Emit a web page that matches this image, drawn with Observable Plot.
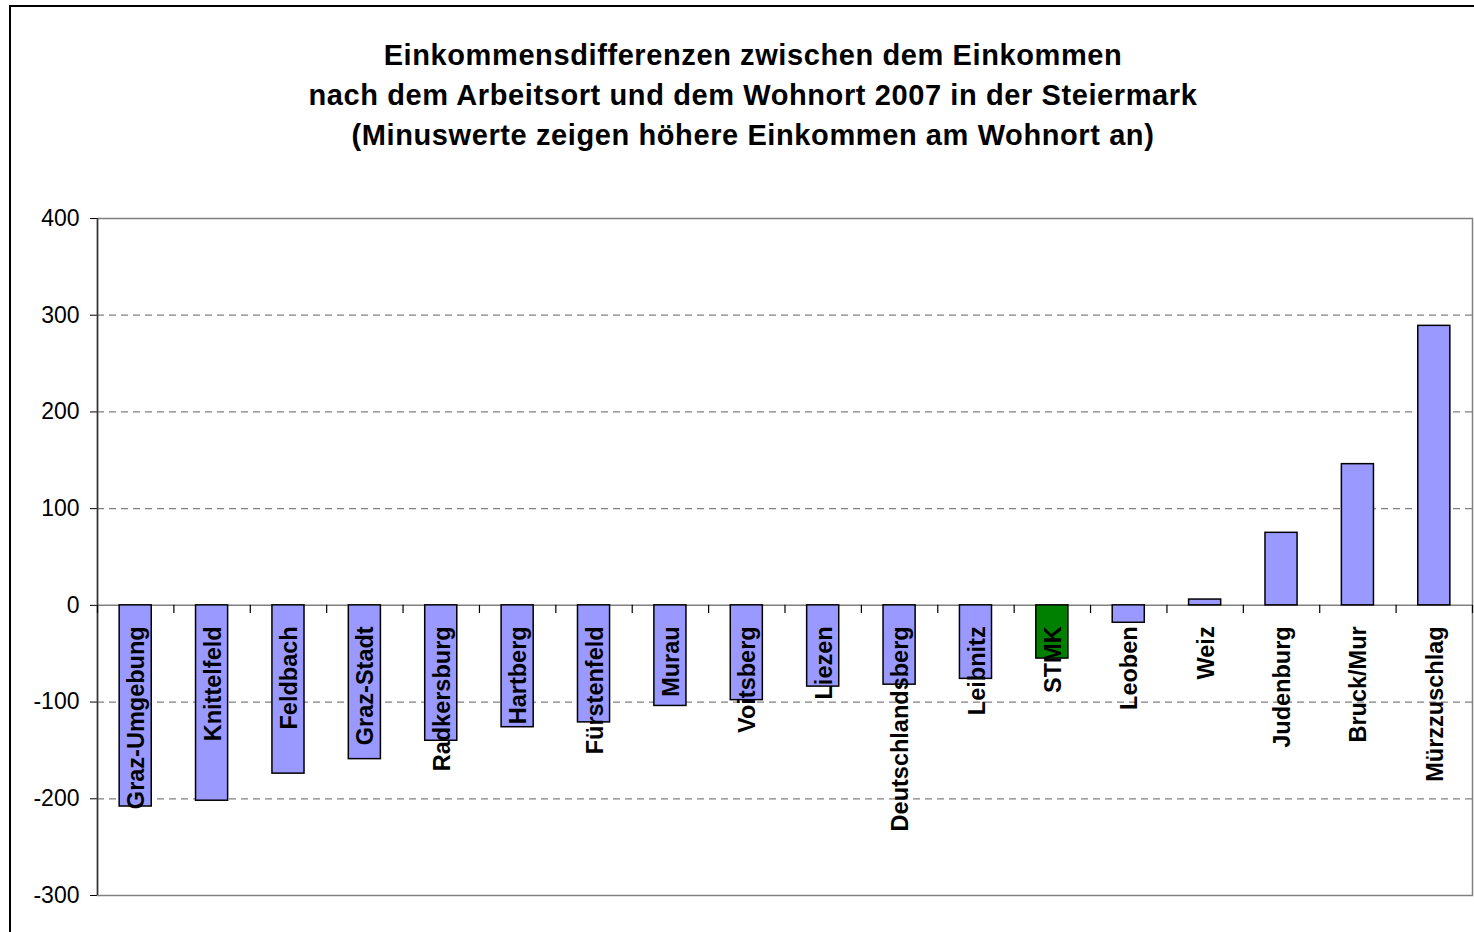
<!DOCTYPE html>
<html>
<head>
<meta charset="utf-8">
<script src="https://cdn.jsdelivr.net/npm/d3@7"></script>
<script src="https://cdn.jsdelivr.net/npm/@observablehq/plot@0.6"></script>
<style>
  html, body { margin: 0; padding: 0; background: #fff; overflow: hidden; }
  body { width: 1474px; height: 932px; position: relative; font-family: "Liberation Sans", Arial, sans-serif; }
  #border { position: absolute; left: 9px; top: 5px; width: 1600px; height: 1000px; border: 2px solid #000; box-sizing: border-box; }
  #title { position: absolute; left: 0; top: 35px; width: 1506px; text-align: center; font-weight: bold; font-size: 29px; letter-spacing: 0.6px; line-height: 40px; color: #000; }
  #chart { position: absolute; left: 0; top: 190px; }
</style>
</head>
<body>
<div id="border"></div>
<div id="title">Einkommensdifferenzen zwischen dem Einkommen<br>nach dem Arbeitsort und dem Wohnort 2007 in der Steiermark<br>(Minuswerte zeigen höhere Einkommen am Wohnort an)</div>
<div id="chart"></div>
<script>
const regions = ["Graz-Umgebung","Knittelfeld","Feldbach","Graz-Stadt","Radkersburg","Hartberg","Fürstenfeld","Murau","Voitsberg","Liezen","Deutschlandsberg","Leibnitz","STMK","Leoben","Weiz","Judenburg","Bruck/Mur","Mürzzuschlag"];
const values = [-208,-202,-174,-159,-140,-126,-121,-104,-98,-84,-82,-76,-55,-18,6,75,146,289];
const yTicks = [-300,-200,-100,0,100,200,300,400];
const gridValues = [-200,-100,100,200,300];
const highlight = "STMK";

const data = regions.map((r, i) => ({region: r, value: values[i]}));

const W = 1474, H = 742, mL = 97, mR = 2, mT = 28, mB = 37;
const step = (W - mL - mR) / regions.length;

const chart = Plot.plot({
  width: W, height: H,
  marginLeft: mL, marginRight: mR, marginTop: mT, marginBottom: mB,
  style: {fontFamily: '"Liberation Sans", Arial, sans-serif', fontSize: "23px", color: "#000", background: "transparent", overflow: "visible"},
  x: {domain: regions, paddingInner: 0.58, paddingOuter: 0.29, round: false, axis: null},
  y: {domain: [-300, 400], ticks: yTicks, tickSize: 7, tickPadding: 11, tickFormat: d => String(d), label: null},
  marks: [
    Plot.ruleY(gridValues, {y: d => d, stroke: "#808080", strokeWidth: 1.3, strokeDasharray: "7,5"}),
    Plot.frame({stroke: "#808080", strokeWidth: 1.5}),
    Plot.ruleY([0], {y: d => d, stroke: "#808080", strokeWidth: 1.5}),
    Plot.ruleX([regions[0]], {x: d => d, dx: -step / 2, stroke: "#333", strokeWidth: 1.5}),
    Plot.ruleX(regions, {x: d => d, y1: 0, y2: -8.5, dx: -step / 2, stroke: "#000", strokeWidth: 1.2}),
    Plot.ruleX([regions[regions.length - 1]], {x: d => d, y1: 0, y2: -8.5, dx: step / 2, stroke: "#000", strokeWidth: 1.2}),
    Plot.barY(data, {x: "region", y: "value", fill: d => d.region === highlight ? "#008000" : "#9999FF", stroke: "#000", strokeWidth: 1.5}),
    Plot.text(data, {x: "region", y: 0, text: "region", rotate: -90, textAnchor: "end", dy: 21, dx: 1, fontSize: 23.5, fontWeight: "bold", fill: "#000"})
  ]
});
document.getElementById("chart").appendChild(chart);
</script>
</body>
</html>
